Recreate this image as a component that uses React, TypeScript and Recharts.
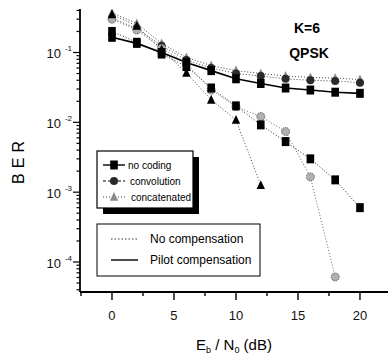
import { LineChart, Line, XAxis, YAxis } from 'recharts';

const snr = [0, 2, 4, 6, 8, 10, 12, 14, 16, 18, 20];

// error-floor curves (upper)
const noCodingFloor = [0.165, 0.135, 0.1, 0.072, 0.055, 0.042, 0.036, 0.031, 0.029, 0.027, 0.026];
const convolutionFloor = [0.31, 0.22, 0.125, 0.078, 0.06, 0.05, 0.046, 0.042, 0.04, 0.039, 0.037];
const concatenatedFloor = [0.37, 0.26, 0.135, 0.085, 0.065, 0.055, 0.05, 0.046, 0.044, 0.043, 0.041];

// waterfall curves (lower)
const noCodingPilot = [0.2, 0.14, 0.095, 0.063, 0.031, 0.0172, 0.0092, 0.0053, 0.003, 0.0015, 0.0006];
const convolutionPilot = [0.3, 0.21, 0.115, 0.07, 0.029, 0.0168, 0.0121, 0.0074, 0.00165, 0.000061, null];
const concatenatedPilot = [0.35, 0.24, 0.11, 0.051, 0.021, 0.0108, 0.00126, null, null, null, null];

const xMajor = [0, 5, 10, 15, 20];
const xMinor = [-2.5, 2.5, 7.5, 12.5, 17.5];
const yMajor = [1e-4, 1e-3, 1e-2, 1e-1];
const yLabels = ['-4', '-3', '-2', '-1'];

const X_DOMAIN: [number, number] = [-2.58, 22.26];
const Y_DOMAIN: [number, number] = [3.72e-5, 0.4195];

const yTicks: number[] = [];
yMajor.forEach((d) => {
  for (let m = 1; m <= 9; m++) {
    const v = d * m;
    if (v >= Y_DOMAIN[0] && v <= Y_DOMAIN[1]) yTicks.push(v);
  }
});
[4, 5, 6, 7, 8, 9].forEach((m) => yTicks.push(m * 1e-5));
const xTicks = [...xMajor, ...xMinor].sort((a, b) => a - b);

const data = snr.map((s, i) => ({
  snr: s,
  ncF: noCodingFloor[i],
  cvF: convolutionFloor[i],
  ccF: concatenatedFloor[i],
  ncP: noCodingPilot[i],
  cvP: convolutionPilot[i],
  ccP: concatenatedPilot[i],
}));

const FONT = "'Liberation Sans', Arial, sans-serif";

function Mark({ kind, cx, cy }: { kind: string; cx: number; cy: number }) {
  if (kind === 'square') return <rect x={cx - 3.8} y={cy - 4.5} width={7.6} height={9} fill="#000" />;
  if (kind === 'dot') return <circle cx={cx} cy={cy} r={4} fill="#2a2a2a" />;
  if (kind === 'checker')
    return <circle cx={cx} cy={cy} r={4} fill="#b0b0b0" stroke="#555" strokeWidth={1} strokeDasharray="1.2 1" />;
  const fill = kind === 'triGray' ? '#8a8a8a' : '#000';
  return <path d={`M${cx},${cy - 5}L${cx + 4.2},${cy + 3.8}L${cx - 4.2},${cy + 3.8}Z`} fill={fill} />;
}

const dotFor = (kind: string) => (p: any) => {
  if (p.cx == null || p.cy == null || p.value == null) return <g key={p.key ?? p.index} />;
  return (
    <g key={p.key ?? p.index}>
      <Mark kind={kind} cx={p.cx} cy={p.cy} />
    </g>
  );
};

function XTick(props: any) {
  const { x, y, payload } = props;
  const major = xMajor.includes(payload.value);
  return (
    <g>
      <line x1={x} x2={x} y1={y} y2={y + (major ? 8 : 4)} stroke="#000" strokeWidth={1.4} />
      {major && (
        <text x={x} y={y + 28} textAnchor="middle" fontSize={13} fontFamily={FONT} fill="#111">
          {payload.value}
        </text>
      )}
    </g>
  );
}

function YTick(props: any) {
  const { x, y, payload } = props;
  const idx = yMajor.findIndex((v) => Math.abs(v - payload.value) / v < 1e-6);
  const major = idx >= 0;
  return (
    <g>
      <line x1={x - (major ? 7 : 3.5)} x2={x} y1={y} y2={y} stroke="#000" strokeWidth={1.2} />
      {major && (
        <text x={x - 19} y={y + 6} textAnchor="end" fontSize={13} fontFamily={FONT} fill="#111">
          10
        </text>
      )}
      {major && (
        <text x={x - 8} y={y - 1} textAnchor="end" fontSize={8} fontFamily={FONT} fill="#111">
          {yLabels[idx]}
        </text>
      )}
    </g>
  );
}

export default function App() {
  const dotted = { stroke: '#444', strokeWidth: 1, strokeDasharray: '1 2' };
  return (
    <div style={{ position: 'absolute', left: 0, top: 0, width: 388, height: 360, background: '#fff' }}>
      <LineChart width={388} height={360} data={data} margin={{ top: 9, right: 0, bottom: 0, left: 0 }}>
        <XAxis
          dataKey="snr"
          type="number"
          domain={X_DOMAIN}
          ticks={xTicks}
          interval={0}
          allowDataOverflow
          tick={<XTick />}
          tickLine={false}
          tickSize={0}
          tickMargin={0}
          height={68}
          axisLine={{ stroke: '#000', strokeWidth: 1.8 }}
        />
        <XAxis
          xAxisId="top"
          orientation="top"
          dataKey="snr"
          type="number"
          domain={X_DOMAIN}
          allowDataOverflow
          tick={false}
          tickLine={false}
          height={0}
          axisLine={{ stroke: '#000', strokeWidth: 1.8 }}
        />
        <YAxis
          scale="log"
          type="number"
          domain={Y_DOMAIN}
          ticks={yTicks}
          interval={0}
          allowDataOverflow
          tick={<YTick />}
          tickLine={false}
          tickSize={0}
          tickMargin={0}
          width={80}
          axisLine={{ stroke: '#000', strokeWidth: 1.8 }}
        />
        <Line dataKey="ccF" {...dotted} dot={dotFor('triGray')} isAnimationActive={false} />
        <Line dataKey="cvF" {...dotted} dot={dotFor('dot')} isAnimationActive={false} />
        <Line dataKey="cvP" {...dotted} stroke="#666" dot={dotFor('checker')} isAnimationActive={false} />
        <Line dataKey="ccP" {...dotted} dot={dotFor('tri')} isAnimationActive={false} />
        <Line dataKey="ncP" {...dotted} stroke="#222" dot={dotFor('square')} isAnimationActive={false} />
        <Line dataKey="ncF" stroke="#000" strokeWidth={1.6} dot={dotFor('square')} isAnimationActive={false} />
      </LineChart>
      <svg width={388} height={360} style={{ position: 'absolute', left: 0, top: 0, pointerEvents: 'none' }} fontFamily={FONT}>
        <text x={307} y={33} textAnchor="middle" fontSize={14} fontWeight="bold">K=6</text>
        <text x={309} y={58} textAnchor="middle" fontSize={14} fontWeight="bold">QPSK</text>
        <text transform="translate(24,160) rotate(-90)" textAnchor="middle" fontSize={16} letterSpacing={5}>BER</text>
        <text x={234} y={350} textAnchor="middle" fontSize={15}>
          E<tspan fontSize={9} dy={3}>b</tspan>
          <tspan dy={-3}> / N</tspan>
          <tspan fontSize={9} dy={3}>0</tspan>
          <tspan dy={-3}> (dB)</tspan>
        </text>

        {/* coding legend with drop shadow */}
        <rect x={103} y={157} width={96} height={57} fill="#000" />
        <rect x={97} y={151} width={96} height={57} fill="#fff" stroke="#000" strokeWidth={1.2} />
        <line x1={103} x2={125} y1={165} y2={165} stroke="#000" strokeWidth={1.4} />
        <Mark kind="square" cx={114} cy={165} />
        <line x1={103} x2={125} y1={181} y2={181} stroke="#000" strokeWidth={1.2} strokeDasharray="3 2" />
        <Mark kind="dot" cx={114} cy={181} />
        <line x1={103} x2={125} y1={197} y2={197} stroke="#444" strokeWidth={1} strokeDasharray="1 2" />
        <Mark kind="triGray" cx={114} cy={197} />
        <text x={128} y={169} fontSize={10}>no coding</text>
        <text x={130} y={185} fontSize={10}>convolution</text>
        <text x={131} y={201} fontSize={10}>concatenated</text>

        {/* compensation legend */}
        <rect x={97} y={224} width={163} height={52} fill="#fff" stroke="#000" strokeWidth={1} />
        <line x1={111} x2={138} y1={239} y2={239} stroke="#333" strokeWidth={1} strokeDasharray="1.5 2" />
        <line x1={111} x2={138} y1={260} y2={260} stroke="#000" strokeWidth={1.4} />
        <text x={150} y={243} fontSize={12}>No compensation</text>
        <text x={150} y={264} fontSize={12}>Pilot compensation</text>
      </svg>
    </div>
  );
}
